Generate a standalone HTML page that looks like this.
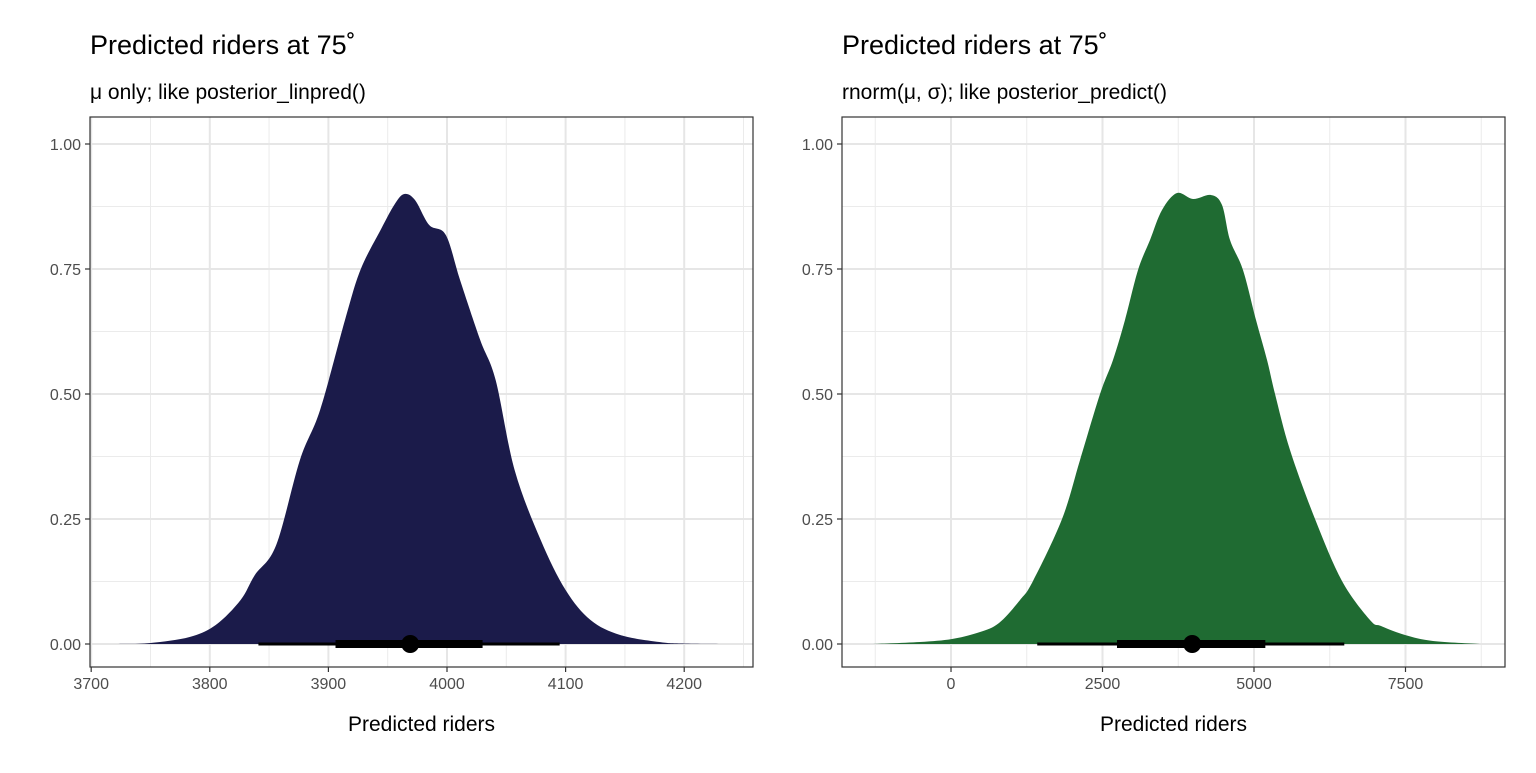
<!DOCTYPE html>
<html><head><meta charset="utf-8"><style>
body{margin:0;background:#fff;}
svg text{font-family:"Liberation Sans",sans-serif;}
</style></head><body>
<svg id="s" width="1536" height="768" xmlns="http://www.w3.org/2000/svg">
<text x="90" y="54" font-size="27" fill="#000">Predicted riders at 75˚</text>
<text x="90" y="99" font-size="21" fill="#000">μ only; like posterior_linpred()</text>
<text x="842" y="54" font-size="27" fill="#000">Predicted riders at 75˚</text>
<text x="842" y="99" font-size="21" fill="#000">rnorm(μ, σ); like posterior_predict()</text>
</svg>
<script>
// Left panel data
const leftX=[3723,3750,3783,3805,3826,3838,3856,3876,3893,3914,3927,3944,3956,3964,3973,3985,3999,4011,4028,4041,4057,4079,4100,4121,4146,4179,4197,4234];
const leftY=[0,0.002,0.014,0.038,0.088,0.138,0.198,0.368,0.468,0.648,0.748,0.828,0.88,0.9,0.888,0.838,0.818,0.728,0.608,0.528,0.348,0.208,0.108,0.048,0.018,0.004,0.001,0];
const leftTicks=[3700,3800,3900,4000,4100,4200];
const leftInterval=[3841,4095,3906,4030,3969];
// Right panel data
const rightX=[-1304,-512,17,479,792,1139,1353,1832,2129,2459,2673,2871,3086,3284,3482,3729,3993,4290,4472,4604,4818,5033,5215,5347,5594,6007,6452,6914,7096,7492,7954,8729];
const rightY=[0,0.004,0.010,0.024,0.042,0.088,0.126,0.25,0.368,0.5,0.568,0.648,0.748,0.808,0.868,0.902,0.89,0.898,0.878,0.808,0.748,0.648,0.568,0.5,0.388,0.25,0.126,0.048,0.036,0.018,0.006,0];
const rightTicks=[0,2500,5000,7500];
const rightInterval=[1423,6490,2739,5187,3980];
const yTicks=[0,0.25,0.5,0.75,1];
const yTickLabels=["0.00","0.25","0.50","0.75","1.00"];

const svg=document.getElementById('s');
const NS="http://www.w3.org/2000/svg";
function mk(tag,attrs,parent){const e=document.createElementNS(NS,tag);for(const k in attrs)e.setAttribute(k,attrs[k]);(parent||svg).appendChild(e);return e;}
const plotTop=117,plotBot=667;
const ys=v=>644-v*500;

function panel(name,x0,x1,dmin,dmax,xs,ys_,ticks,minors,interval,fill){
  const xs_=v=>x0+(v-dmin)/(dmax-dmin)*(x1-x0);
  const g=mk('g',{});
  
  
  [0.125,0.375,0.625,0.875].forEach(v=>{const l=mk('line',{x1:x0,x2:x1,y1:ys(v),y2:ys(v),stroke:'#ebebeb','stroke-width':1},g);});
  minors.forEach(v=>{const l=mk('line',{x1:xs_(v),x2:xs_(v),y1:plotTop,y2:plotBot,stroke:'#ebebeb','stroke-width':1},g);});
  yTicks.forEach(v=>{const l=mk('line',{x1:x0,x2:x1,y1:ys(v),y2:ys(v),stroke:'#e6e6e6','stroke-width':2},g);});
  ticks.forEach(v=>{const l=mk('line',{x1:xs_(v),x2:xs_(v),y1:plotTop,y2:plotBot,stroke:'#e6e6e6','stroke-width':2},g);});
  const P=xs.map((x,i)=>[xs_(x),ys(ys_[i])]);
  let d=`M${P[0][0]},${P[0][1]}`;
  for(let i=0;i<P.length-1;i++){const p0=P[Math.max(0,i-1)],p1=P[i],p2=P[i+1],p3=P[Math.min(P.length-1,i+2)];
    d+=` C${p1[0]+(p2[0]-p0[0])/6},${p1[1]+(p2[1]-p0[1])/6} ${p2[0]-(p3[0]-p1[0])/6},${p2[1]-(p3[1]-p1[1])/6} ${p2[0]},${p2[1]}`;}
  d+='Z';
  const a=mk('path',{d:d,fill:fill},g);
  
  
  const t=mk('line',{x1:xs_(interval[0]),x2:xs_(interval[1]),y1:644,y2:644,stroke:'#000','stroke-width':3},g);
  
  const k=mk('line',{x1:xs_(interval[2]),x2:xs_(interval[3]),y1:644,y2:644,stroke:'#000','stroke-width':8},g);
  
  const c=mk('circle',{cx:xs_(interval[4]),cy:644,r:9,fill:'#000'},g);
  
  const b=mk('rect',{x:x0,y:plotTop,width:x1-x0,height:plotBot-plotTop,fill:'none',stroke:'#333','stroke-width':1.2},g);
  
  yTicks.forEach((v,i)=>{
    mk('line',{x1:x0-5,x2:x0,y1:ys(v),y2:ys(v),stroke:'#333','stroke-width':1.2},g);
    const tx=mk('text',{x:x0-9,y:ys(v)+6,'font-size':16,fill:'#4d4d4d','text-anchor':'end'},g);
    tx.textContent=yTickLabels[i];
    
  });
  ticks.forEach(v=>{
    mk('line',{x1:xs_(v),x2:xs_(v),y1:plotBot,y2:plotBot+5,stroke:'#333','stroke-width':1.2},g);
    const tx=mk('text',{x:xs_(v),y:plotBot+22,'font-size':16,fill:'#4d4d4d','text-anchor':'middle'},g);
    tx.textContent=String(v);
    
  });
  const at=mk('text',{x:(x0+x1)/2,y:731,'font-size':21,fill:'#000','text-anchor':'middle'},g);
  at.textContent='Predicted riders';
  
}
panel('left',90,753,3699,4258,leftX,leftY,leftTicks,[3750,3850,3950,4050,4150,4250],leftInterval,'#1b1b4a');
panel('right',842,1505,-1799,9142,rightX,rightY,rightTicks,[-1250,1250,3750,6250,8750],rightInterval,'#1f6b32');
</script>
</body></html>
